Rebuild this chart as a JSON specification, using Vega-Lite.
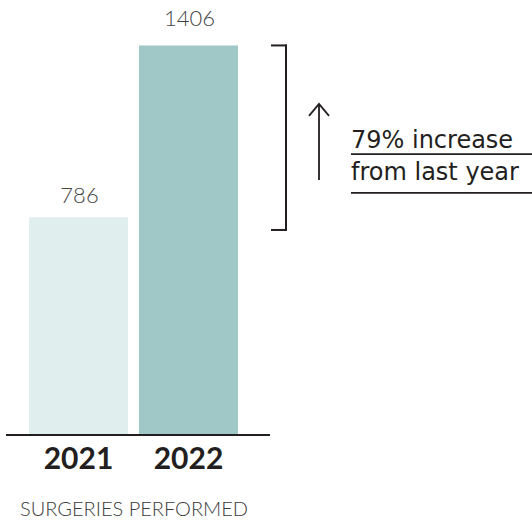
{
  "$schema": "https://vega.github.io/schema/vega-lite/v6.json",
  "width": 532,
  "height": 435,
  "padding": {"left": 0, "top": 0, "right": 0, "bottom": 87},
  "autosize": {"type": "none"},
  "background": "white",
  "config": {"view": {"stroke": null}},
  "layer": [
    {
      "data": {"values": [{"year": "2021", "surgeries": 786}, {"year": "2022", "surgeries": 1406}]},
      "encoding": {
        "x": {
          "field": "year",
          "type": "nominal",
          "scale": {"range": [23.5, 243.5], "paddingInner": 0.1, "paddingOuter": 0.05},
          "axis": {
            "title": "SURGERIES PERFORMED",
            "domain": false,
            "ticks": false,
            "labelAngle": 0,
            "labelFont": "Lato",
            "labelFontSize": 30,
            "labelFontWeight": "bold",
            "labelColor": "#231f20",
            "labelBaseline": "alphabetic",
            "labelPadding": 33,
            "titleFont": "Lato",
            "titleFontSize": 20,
            "titleFontWeight": 300,
            "titleColor": "#3a3a3a",
            "titlePadding": 25
          }
        },
        "y": {
          "field": "surgeries",
          "type": "quantitative",
          "scale": {"domain": [0, 1570], "nice": false, "zero": true},
          "axis": null
        }
      },
      "layer": [
        {
          "mark": {"type": "bar"},
          "encoding": {
            "color": {"field": "year", "type": "nominal", "scale": {"range": ["#e1eeee", "#9fc8c7"]}, "legend": null}
          }
        },
        {
          "transform": [{"filter": "datum.year == '2022'"}],
          "mark": {"type": "text", "font": "Lato", "fontSize": 22, "fontWeight": 300, "color": "#444444", "baseline": "alphabetic", "dy": -19, "dx": 1},
          "encoding": {"text": {"field": "surgeries", "type": "quantitative"}}
        },
        {
          "transform": [{"filter": "datum.year == '2021'"}],
          "mark": {"type": "text", "font": "Lato", "fontSize": 22, "fontWeight": 300, "color": "#444444", "baseline": "alphabetic", "dy": -14, "dx": 1},
          "encoding": {"text": {"field": "surgeries", "type": "quantitative"}}
        }
      ]
    },
    {
      "data": {"values": [{"note": ["79% increase", "from last year"]}]},
      "layer": [
        {
          "mark": {"type": "rule", "color": "#231f20", "strokeWidth": 2.2},
          "encoding": {
            "x": {"datum": 6, "type": "quantitative", "scale": {"domain": [0, 532], "nice": false, "zero": false}, "axis": null},
            "x2": {"datum": 270},
            "y": {"datum": 0, "type": "quantitative"}
          }
        },
        {
          "mark": {"type": "rule", "color": "#231f20", "strokeWidth": 2, "strokeCap": "square"},
          "encoding": {
            "x": {"datum": 286, "type": "quantitative"},
            "y": {"datum": 1406, "type": "quantitative"},
            "y2": {"datum": 740}
          }
        },
        {
          "mark": {"type": "rule", "color": "#231f20", "strokeWidth": 2, "strokeCap": "square"},
          "encoding": {
            "x": {"datum": 272, "type": "quantitative"},
            "x2": {"datum": 286},
            "y": {"datum": 1406, "type": "quantitative"}
          }
        },
        {
          "mark": {"type": "rule", "color": "#231f20", "strokeWidth": 2, "strokeCap": "square"},
          "encoding": {
            "x": {"datum": 272, "type": "quantitative"},
            "x2": {"datum": 286},
            "y": {"datum": 740, "type": "quantitative"}
          }
        },
        {
          "mark": {"type": "point", "shape": "M0,0L0,7.6M-1,1.2L0,0L1,1.2", "size": 400, "filled": false, "stroke": "#231f20", "strokeWidth": 1.8, "opacity": 1},
          "encoding": {
            "x": {"datum": 319, "type": "quantitative"},
            "y": {"datum": 1195, "type": "quantitative"}
          }
        },
        {
          "mark": {"type": "text", "font": "DejaVu Sans", "fontSize": 24, "color": "#231f20", "align": "left", "baseline": "alphabetic", "lineHeight": 32},
          "encoding": {
            "x": {"datum": 351, "type": "quantitative"},
            "y": {"datum": 1036, "type": "quantitative"},
            "text": {"field": "note"}
          }
        },
        {
          "mark": {"type": "rule", "color": "#231f20", "strokeWidth": 1.8},
          "encoding": {
            "x": {"datum": 351, "type": "quantitative"},
            "x2": {"datum": 532},
            "y": {"datum": 1014, "type": "quantitative"}
          }
        },
        {
          "mark": {"type": "rule", "color": "#231f20", "strokeWidth": 1.8},
          "encoding": {
            "x": {"datum": 351, "type": "quantitative"},
            "x2": {"datum": 532},
            "y": {"datum": 874, "type": "quantitative"}
          }
        }
      ]
    }
  ],
  "resolve": {"scale": {"x": "independent"}}
}
